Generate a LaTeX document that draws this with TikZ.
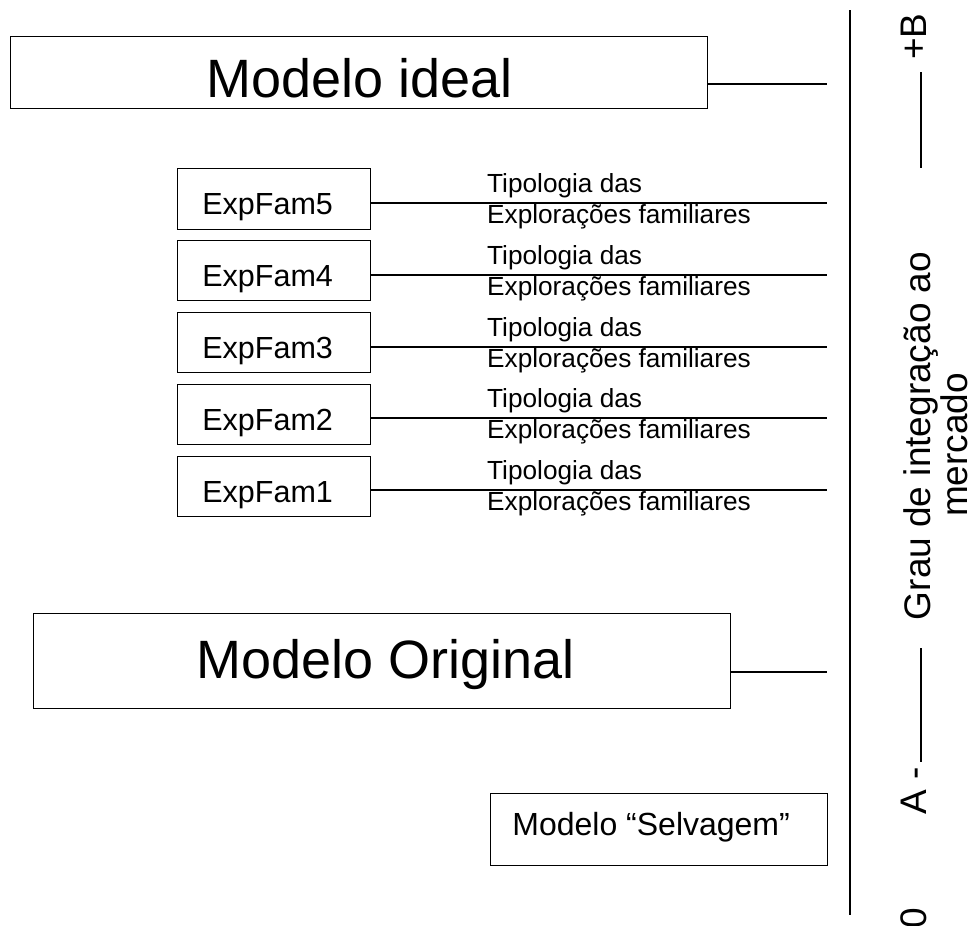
\documentclass[tikz,border=0pt]{standalone}
\usepackage{fontspec}
\setmainfont{Liberation Sans}
\begin{document}
\begin{tikzpicture}[x=1pt,y=-1pt,
  box/.style={draw, line width=1.3pt, rectangle, inner sep=0pt, anchor=north west, text depth=0pt},
  fs/.style={font=\fontsize{#1}{#1}\selectfont},
  conn/.style={line width=1.3pt},
  expbox/.style={box, minimum width=193, fs=30.5, text height=31pt},
  lbl/.style={fs=26.2, anchor=base west, inner sep=0pt},
  rot/.style={fs=37, rotate=90, inner sep=0pt}]
\useasboundingbox (0,0) rectangle (978,926);

% boxes
\node[box, minimum width=697, minimum height=72, fs=54, text height=50pt] (mi) at (10,36) {Modelo ideal};
\node[expbox, minimum height=61] (e5) at (177,168) {ExpFam5\kern13pt};
\node[expbox, minimum height=60] (e4) at (177,240) {ExpFam4\kern13pt};
\node[expbox, minimum height=60] (e3) at (177,312) {ExpFam3\kern13pt};
\node[expbox, minimum height=60] (e2) at (177,384) {ExpFam2\kern13pt};
\node[expbox, minimum height=60] (e1) at (177,456) {ExpFam1\kern13pt};
\node[box, minimum width=697, minimum height=95, fs=54, text height=35pt] (mo) at (33,613) {\kern7pt Modelo Original};
\node[box, minimum width=337, minimum height=72, fs=32, text height=12pt] (ms) at (490,793) {Modelo “Selvagem”\kern16pt};

% connector ends
\coordinate (c0) at (827,84);
\coordinate (c5) at (827,203);
\coordinate (c4) at (827,275);
\coordinate (c3) at (827,347);
\coordinate (c2) at (827,418);
\coordinate (c1) at (827,490);
\coordinate (c6) at (827,672);

\draw[conn] (mi.east |- c0) -- (c0);
\draw[conn] (e5.east |- c5) -- (c5);
\draw[conn] (e4.east |- c4) -- (c4);
\draw[conn] (e3.east |- c3) -- (c3);
\draw[conn] (e2.east |- c2) -- (c2);
\draw[conn] (e1.east |- c1) -- (c1);
\draw[conn] (mo.east |- c6) -- (c6);

% labels
\foreach \n/\y in {5/203,4/275,3/347,2/418,1/490}{
  \node[lbl] (t\n) at (487,\y-11) {Tipologia das};
  \node[lbl] (x\n) at (487,\y+20) {Explorações familiares};
}

% axis
\coordinate (ax1) at (850,10);
\coordinate (ax2) at (850,915);
\draw[line width=1.5pt] (ax1) -- (ax2);

% rotated axis label
\node[rot, anchor=base west] (pb) at (926,60) {+B};
\node[rot, anchor=base] (g1) at (930,436) {Grau de integração ao};
\node[rot, anchor=base] (g2) at (967,445) {mercado};
\node[rot, anchor=base west] (am) at (926,815) {A -};
\node[rot, anchor=base west] (zr) at (926,929) {0};
\coordinate (d1) at (921,72);
\coordinate (d2) at (921,168);
\coordinate (d3) at (921,648);
\coordinate (d4) at (921,762);
\draw[line width=1.2pt] (d1) -- (d2);
\draw[line width=1.2pt] (d3) -- (d4);
\end{tikzpicture}
\end{document}
